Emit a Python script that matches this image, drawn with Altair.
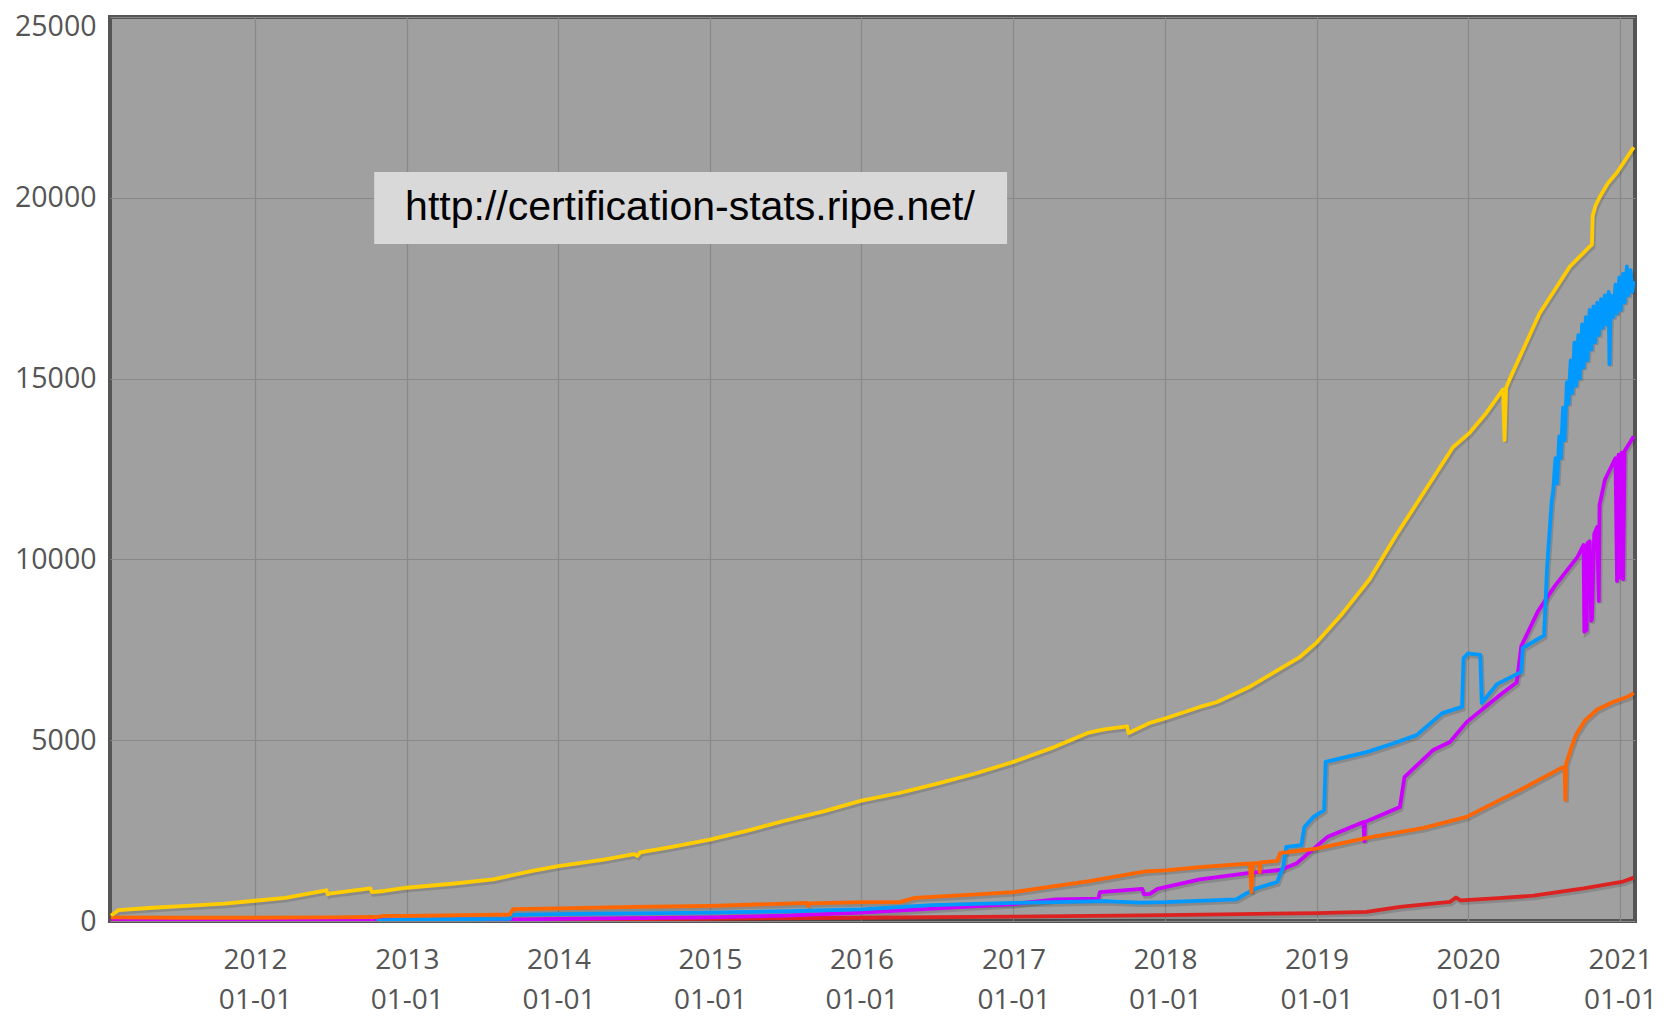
import altair as alt
import pandas as pd
from datetime import datetime

# ---------------- data (decimal year, value) ----------------
yellow_t = [2011.05, 2011.10, 2011.30, 2011.55, 2011.80, 2012.00, 2012.20, 2012.47, 2012.48, 2012.49,
            2012.76, 2012.77, 2012.85, 2013.00, 2013.30, 2013.57, 2013.82, 2014.00, 2014.30, 2014.50,
            2014.52, 2014.54, 2014.75, 2015.00, 2015.25, 2015.50, 2015.75, 2016.00, 2016.25, 2016.50,
            2016.75, 2017.00, 2017.25, 2017.49, 2017.60, 2017.75, 2017.76, 2017.90, 2018.00, 2018.23,
            2018.34, 2018.56, 2018.75, 2018.89, 2019.00, 2019.17, 2019.35, 2019.53, 2019.70, 2019.90,
            2020.01, 2020.12, 2020.23, 2020.24, 2020.25, 2020.27, 2020.47, 2020.67, 2020.80, 2020.815,
            2020.82, 2020.84, 2020.87, 2020.92, 2020.98, 2021.09]
yellow_v = [150, 300, 360, 420, 480, 560, 640, 850, 740, 760,
            900, 800, 830, 920, 1030, 1150, 1380, 1520, 1700, 1850,
            1800, 1900, 2050, 2250, 2500, 2780, 3030, 3330, 3540, 3800,
            4080, 4400, 4780, 5200, 5300, 5380, 5200, 5480, 5600, 5920,
            6050, 6480, 6950, 7300, 7700, 8500, 9450, 10700, 11800, 13100,
            13500, 14050, 14700, 13300, 14750, 14950, 16800, 18100, 18650, 18700,
            19500, 19800, 20050, 20400, 20700, 21400]

blue_t = [2012.80, 2013.00, 2013.68, 2013.69, 2014.00, 2014.50, 2015.00, 2015.50, 2016.00, 2016.46,
          2017.00, 2017.60, 2017.83, 2018.00, 2018.47, 2018.54, 2018.60, 2018.74, 2018.78, 2018.80,
          2018.90, 2018.92, 2018.98, 2019.05, 2019.06, 2019.33, 2019.50, 2019.66, 2019.83, 2019.96,
          2019.97, 2020.00, 2020.08, 2020.09, 2020.19, 2020.35, 2020.36, 2020.50, 2020.52, 2020.55,
          2020.56, 2020.575, 2020.585, 2020.60, 2020.61, 2020.625, 2020.635, 2020.65, 2020.66, 2020.675,
          2020.685, 2020.70, 2020.71, 2020.725, 2020.735, 2020.75, 2020.76, 2020.775, 2020.785, 2020.80,
          2020.81, 2020.825, 2020.835, 2020.85, 2020.86, 2020.875, 2020.885, 2020.90, 2020.91, 2020.925,
          2020.93, 2020.94, 2020.955, 2020.97, 2020.98, 2020.995, 2021.005, 2021.02, 2021.03, 2021.045,
          2021.055, 2021.07, 2021.08, 2021.09]
blue_v = [20, 40, 60, 170, 190, 210, 230, 270, 320, 440,
          500, 550, 510, 520, 600, 770, 900, 1080, 1500, 2050,
          2100, 2600, 2880, 3070, 4400, 4670, 4900, 5140, 5750, 5920,
          7270, 7400, 7360, 6030, 6550, 6890, 7550, 7900, 9800, 11600,
          11900, 12800, 12100, 13400, 12800, 14200, 13300, 14900, 14300, 15500,
          14600, 16000, 14800, 16200, 15000, 16500, 15300, 16700, 15500, 16900,
          15800, 17000, 16000, 17100, 16200, 17200, 16400, 17300, 16500, 17400,
          15400, 17300, 16700, 17600, 16800, 17800, 16900, 17900, 17100, 18100,
          17300, 18000, 17400, 17700]

magenta_t = [2011.05, 2011.50, 2012.00, 2013.00, 2013.70, 2014.00, 2014.50, 2015.00, 2015.50, 2016.00,
             2016.50, 2017.00, 2017.28, 2017.56, 2017.57, 2017.85, 2017.86, 2017.90, 2017.95, 2018.23,
             2018.56, 2018.76, 2018.87, 2019.07, 2019.31, 2019.315, 2019.32, 2019.55, 2019.58, 2019.77,
             2019.88, 2019.99, 2020.21, 2020.32, 2020.35, 2020.46, 2020.57, 2020.72, 2020.76, 2020.765,
             2020.78, 2020.785, 2020.80, 2020.81, 2020.815, 2020.83, 2020.85, 2020.86, 2020.865, 2020.90,
             2020.97, 2020.98, 2020.99, 2021.00, 2021.01, 2021.02, 2021.03, 2021.09]
magenta_v = [60, 40, 30, 30, 40, 60, 80, 100, 150, 230,
             350, 470, 600, 620, 800, 890, 740, 750, 890, 1150,
             1330, 1410, 1600, 2320, 2740, 2200, 2740, 3150, 3980, 4730,
             4950, 5500, 6250, 6600, 7600, 8570, 9260, 10070, 10400, 8000,
             8050, 10450, 10500, 8300, 8350, 10700, 10900, 8850, 11500, 12200,
             12800, 9400, 12900, 9500, 12950, 9450, 13000, 13400]

orange_t = [2011.05, 2011.50, 2012.00, 2012.50, 2012.80, 2012.85, 2013.00, 2013.50, 2013.68, 2013.70,
            2014.00, 2014.50, 2015.00, 2015.50, 2015.64, 2015.65, 2015.66, 2016.00, 2016.25, 2016.35,
            2016.70, 2017.00, 2017.50, 2017.87, 2018.00, 2018.23, 2018.56, 2018.57, 2018.58, 2018.62,
            2018.625, 2018.63, 2018.74, 2018.76, 2019.00, 2019.33, 2019.70, 2019.99, 2020.21, 2020.34,
            2020.62, 2020.635, 2020.64, 2020.645, 2020.68, 2020.71, 2020.77, 2020.85, 2020.95, 2021.05,
            2021.09]
orange_v = [100, 90, 90, 100, 110, 140, 140, 170, 180, 330,
            350, 390, 420, 480, 500, 420, 490, 520, 520, 640,
            720, 800, 1100, 1370, 1400, 1490, 1590, 800, 1600, 1600,
            1350, 1620, 1660, 1880, 2000, 2300, 2570, 2880, 3350, 3620,
            4250, 4250, 3350, 4350, 4800, 5150, 5550, 5850, 6050, 6200,
            6300]

red_t = [2011.05, 2012.00, 2013.00, 2014.00, 2015.00, 2016.00, 2017.00, 2018.00, 2018.50, 2019.00,
         2019.33, 2019.55, 2019.88, 2019.92, 2019.95, 2020.20, 2020.43, 2020.76, 2021.02, 2021.09]
red_v = [20, 20, 30, 40, 60, 90, 120, 160, 190, 220,
         250, 390, 530, 650, 570, 630, 700, 900, 1090, 1200]

series_names = ["red", "magenta", "blue", "orange", "yellow"]
series_colors = ["#dd2222", "#cc00ff", "#0099ff", "#ff6600", "#ffcc00"]

tick_years = [2012, 2013, 2014, 2015, 2016, 2017, 2018, 2019, 2020, 2021]
y_ticks = [0, 5000, 10000, 15000, 20000, 25000]

note_text = "http://certification-stats.ripe.net/"
note_box_t = [2012.785, 2016.958]
note_box_v = [18722, 20713]
note_pos = [2014.868, 19718]


def to_date(d):
    year = int(d)
    start = datetime(year, 1, 1)
    nxt = datetime(year + 1, 1, 1)
    return (start + (d - year) * (nxt - start)).strftime("%Y-%m-%dT%H:%M:%S")


rows = []
idx = 0
for name, ts, vs in [("red", red_t, red_v), ("magenta", magenta_t, magenta_v),
                     ("blue", blue_t, blue_v), ("orange", orange_t, orange_v),
                     ("yellow", yellow_t, yellow_v)]:
    for t, v in zip(ts, vs):
        rows.append({"series": name, "date": to_date(t), "value": v, "i": idx})
        idx += 1
df = pd.DataFrame(rows)

box_df = pd.DataFrame([{"t1": to_date(note_box_t[0]), "t2": to_date(note_box_t[1]),
                        "v1": note_box_v[0], "v2": note_box_v[1],
                        "tc": to_date(note_pos[0]), "vc": note_pos[1], "label": note_text}])

x_scale = alt.Scale(domain=[alt.DateTime(year=2011, month=1, date=17),
                            alt.DateTime(year=2021, month=2, date=6)])
y_scale = alt.Scale(domain=[0, 25000])

x_axis = alt.Axis(values=[alt.DateTime(year=y, month=1, date=1) for y in tick_years],
                  labelExpr="[timeFormat(datum.value, '%Y'), timeFormat(datum.value, '%m-%d')]",
                  title=None, ticks=False, domain=False, labelPadding=25,
                  labelLineHeight=40, grid=True, labelFontSize=28)
y_axis = alt.Axis(values=y_ticks, format="d", title=None, ticks=False, domain=False,
                  labelPadding=14, grid=True, labelFontSize=28.5,
                  labelOffset={"condition": {"test": "datum.value == 25000", "value": 9},
                               "value": 0})

base = alt.Chart(df)

shadow = base.mark_line(color="black", opacity=0.14, strokeWidth=4, xOffset=1.5, yOffset=2.5,
                        clip=True).encode(
    x=alt.X("date:T", scale=x_scale, axis=x_axis),
    y=alt.Y("value:Q", scale=y_scale, axis=y_axis),
    detail="series:N",
    order="i:Q",
)

lines = base.mark_line(strokeWidth=3.8, clip=True, strokeJoin="round").encode(
    x=alt.X("date:T", scale=x_scale),
    y=alt.Y("value:Q", scale=y_scale),
    color=alt.Color("series:N", scale=alt.Scale(domain=series_names, range=series_colors),
                    legend=None),
    order="i:Q",
)

box = alt.Chart(box_df).mark_rect(color="#d9d9d9").encode(
    x=alt.X("t1:T", scale=x_scale), x2="t2:T",
    y=alt.Y("v1:Q", scale=y_scale), y2="v2:Q",
)

txt = alt.Chart(box_df).mark_text(font="Liberation Sans", fontSize=41, color="black",
                                  align="center", baseline="middle").encode(
    x=alt.X("tc:T", scale=x_scale),
    y=alt.Y("vc:Q", scale=y_scale),
    text="label:N",
)

chart = alt.layer(shadow, lines, box, txt).properties(
    width=1525, height=904,
    autosize=alt.AutoSizeParams(type="none"),
    padding={"left": 102, "top": 9, "right": 21, "bottom": 95},
    background="white",
).configure_view(
    fill="#a0a0a0", stroke="#555555", strokeWidth=4,
).configure_axis(
    labelFont="Open Sans", labelColor="#555555",
    gridColor="#888888", gridWidth=1.2, gridOpacity=1,
)

chart.save("out.html", embed_options={"renderer": "svg", "actions": False})
